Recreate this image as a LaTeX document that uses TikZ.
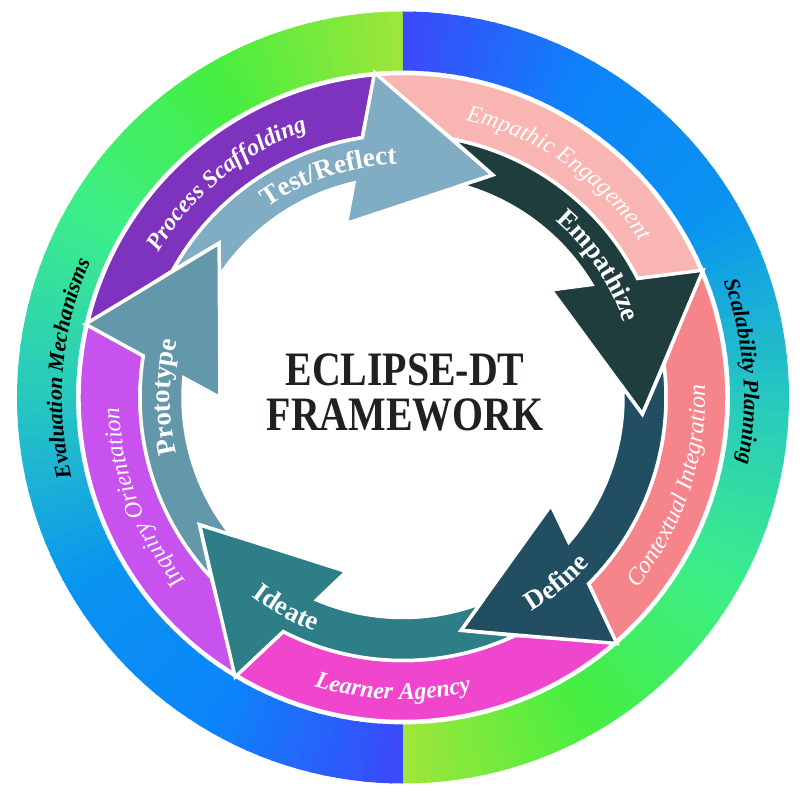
\documentclass[tikz,border=0pt]{standalone}
\usepackage{fontspec}
\setmainfont{Liberation Serif}
\usetikzlibrary{decorations.text}
\definecolor{rg0}{HTML}{A0E63A}
\definecolor{rg1}{HTML}{46EE40}
\definecolor{rg2}{HTML}{3CEE88}
\definecolor{rg3}{HTML}{28C8C0}
\definecolor{rg4}{HTML}{0A94F0}
\definecolor{rg5}{HTML}{0C84FA}
\definecolor{rg6}{HTML}{3C48FA}
\definecolor{testc}{HTML}{80ACC4}
\definecolor{empc}{HTML}{1E3D3C}
\definecolor{defc}{HTML}{214F61}
\definecolor{ideac}{HTML}{2E7E88}
\definecolor{protc}{HTML}{6397AA}
\definecolor{engc}{HTML}{F8B5B1}
\definecolor{ctxc}{HTML}{F6848B}
\definecolor{agenc}{HTML}{F046CE}
\definecolor{inqc}{HTML}{C852EE}
\definecolor{procc}{HTML}{7E33BF}
\definecolor{titlec}{HTML}{231F20}
\newcommand{\outfont}{\fontsize{22}{22}\selectfont\bfseries\itshape}
\newcommand{\midfont}{\fontsize{24}{24}\selectfont\itshape}
\newcommand{\midbfont}{\fontsize{24}{24}\selectfont\bfseries\itshape}
\newcommand{\arrfont}{\fontsize{27}{27}\selectfont\bfseries}
\newcommand{\arclabel}[5]{\path[decorate, decoration={text along path, text align=center, text color=#1, text={#5}}] (#2:#4) arc[start angle=#2, end angle=#3, radius=#4pt];}
\tikzset{
  ringseg/.style={draw=white, line width=3.5pt, fill=#1},
  arrowseg/.style={draw=white, line width=3.5pt, fill=#1},
  title/.style={font=\fontsize{48}{48}\selectfont\bfseries, text=titlec, inner sep=0pt, anchor=base},
}

\begin{document}
\begin{tikzpicture}[x=1pt, y=1pt]
  \useasboundingbox (-403,-397.5) rectangle (403,397.5);
  % outer ring: two mirrored colour sweeps
  \foreach \i in {0,...,89}{
    \pgfmathtruncatemacro{\rgidx}{int(\i/15)}
    \pgfmathtruncatemacro{\rgnext}{\rgidx+1}
    \pgfmathtruncatemacro{\rgmix}{round((2*\i+1-30*\rgidx)*100/30)}
    \colorlet{ringc}{rg\rgnext!\rgmix!rg\rgidx}
    \pgfmathsetmacro{\pa}{2*\i}
    \pgfmathsetmacro{\pb}{min(2*\i+2.4,180)}
    \foreach \off in {90,-90}
      \fill[ringc] ({\off+\pa}:386) arc[start angle={\off+\pa}, end angle={\off+\pb}, radius=386pt] -- ({\off+\pb}:327) arc[start angle={\off+\pb}, end angle={\off+\pa}, radius=327pt] -- cycle;
  }

  % middle ring
  \foreach \T/\mc in {68/procc, -4/engc, -76/ctxc, -148/agenc, 140/inqc}
    \filldraw[ringseg=\mc] ({\T+27}:324) -- ({\T+30.9}:263) arc[start angle={\T+30.9}, end angle={\T+83.2}, radius=263pt] -- ({\T+99}:324) arc[start angle={\T+99}, end angle={\T+27}, radius=324pt] -- cycle;

  % cycle arrows
  \foreach \T/\ac in {68/testc, -4/empc, -76/defc, -148/ideac, 140/protc}
    \filldraw[arrowseg=\ac] ({\T+83.2}:263) arc[start angle={\T+83.2}, end angle={\T+30.9}, radius=263pt] -- ({\T+27}:326) -- (\T:240) -- ({\T+40}:183) -- ({\T+34.9}:220) arc[start angle={\T+34.9}, end angle={\T+78.6}, radius=220pt] -- ({\T+72}:240) -- cycle;

  % labels
  \arclabel{black}{235}{115}{341}{|\outfont|Evaluation Mechanisms}
  \arclabel{black}{64.4}{-55.6}{341}{|\outfont|Scalability Planning}
  \arclabel{white}{115.3}{-4.7}{284}{|\midfont|Empathic Engagement}
  \arclabel{white}{189.5}{69.5}{284}{|\midbfont|Process Scaffolding}
  \arclabel{white}{261}{141}{284}{|\midfont|Inquiry Orientation}
  \arclabel{white}{-78.4}{41.6}{302}{|\midfont|Contextual Integration}
  \arclabel{white}{208}{328}{302}{|\midbfont|Learner Agency}
  \arclabel{white}{168.5}{48.5}{233}{|\arrfont|Test/Reflect}
  \arclabel{white}{94}{-26}{233}{|\arrfont|Empathize}
  \arclabel{white}{240}{120}{233}{|\arrfont|Prototype}
  \arclabel{white}{-110.4}{9.6}{250}{|\arrfont|Define}
  \arclabel{white}{181}{301}{250}{|\arrfont|Ideate}

  \node[title] (eclipse) at (2,12) {\scalebox{0.83}[1]{ECLIPSE-DT}};
  \node[title] (framework) at (2,-33) {\scalebox{0.83}[1]{FRAMEWORK}};
\end{tikzpicture}
\end{document}
